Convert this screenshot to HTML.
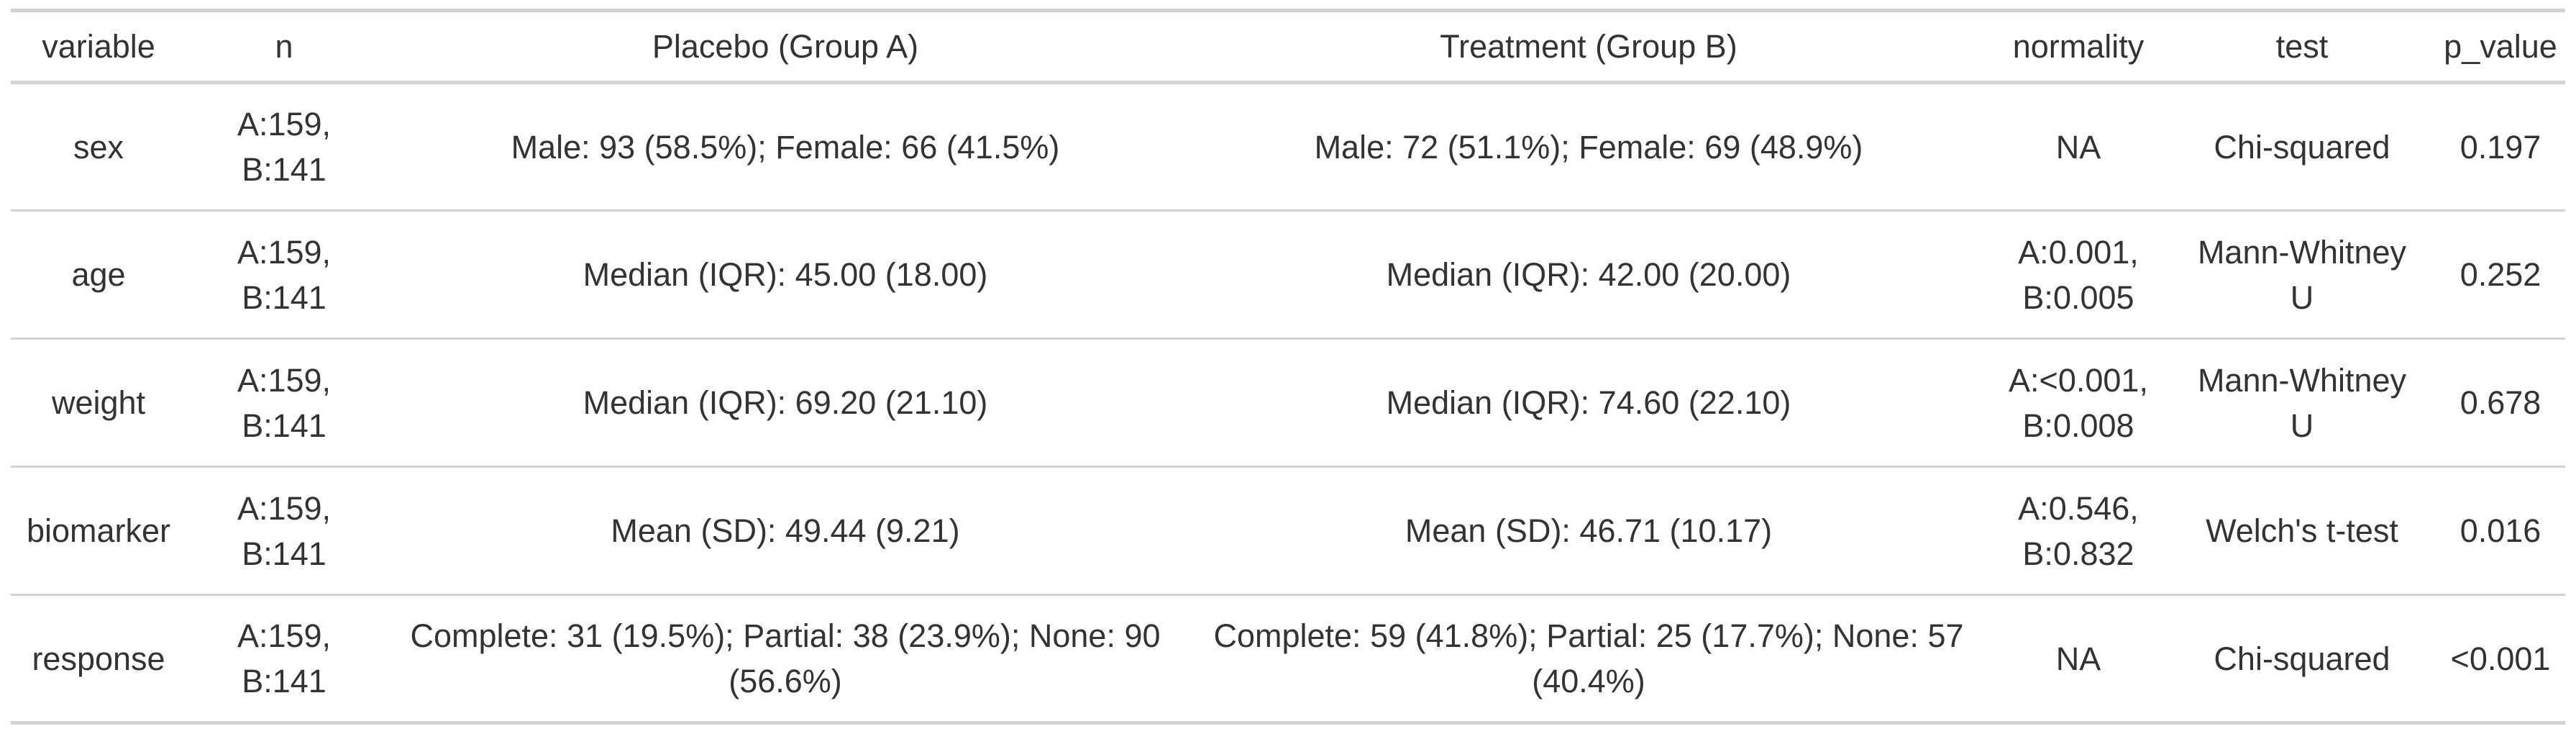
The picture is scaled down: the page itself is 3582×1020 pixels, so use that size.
<!DOCTYPE html>
<html><head><meta charset="utf-8"><style>
html,body{margin:0;padding:0;background:#fff;width:3582px;height:1020px;overflow:hidden}
table{position:absolute;left:15px;top:12px;width:3552px;border-collapse:collapse;table-layout:fixed;font-family:"Liberation Sans",sans-serif;font-size:45px;color:#333;line-height:63px}
td,th{text-align:center;vertical-align:middle;padding:0 4px;font-weight:normal;white-space:nowrap}
thead tr{border-top:5px solid #d3d3d3;border-bottom:5px solid #d3d3d3;height:100px}
tbody tr{border-bottom:3px solid #d3d3d3;height:178px}
tbody tr:last-child{border-bottom:5px solid #d3d3d3}
</style></head><body>
<table>
<colgroup><col style="width:244px"><col style="width:272px"><col style="width:1122px"><col style="width:1112px"><col style="width:250px"><col style="width:372px"><col style="width:180px"></colgroup>
<thead><tr><th>variable</th><th>n</th><th>Placebo (Group A)</th><th>Treatment (Group B)</th><th>normality</th><th>test</th><th>p_value</th></tr></thead>
<tbody>
<tr><td>sex</td><td>A:159,<br>B:141</td><td>Male: 93 (58.5%); Female: 66 (41.5%)</td><td>Male: 72 (51.1%); Female: 69 (48.9%)</td><td>NA</td><td>Chi-squared</td><td>0.197</td></tr>
<tr><td>age</td><td>A:159,<br>B:141</td><td>Median (IQR): 45.00 (18.00)</td><td>Median (IQR): 42.00 (20.00)</td><td>A:0.001,<br>B:0.005</td><td>Mann-Whitney<br>U</td><td>0.252</td></tr>
<tr><td>weight</td><td>A:159,<br>B:141</td><td>Median (IQR): 69.20 (21.10)</td><td>Median (IQR): 74.60 (22.10)</td><td>A:&lt;0.001,<br>B:0.008</td><td>Mann-Whitney<br>U</td><td>0.678</td></tr>
<tr><td>biomarker</td><td>A:159,<br>B:141</td><td>Mean (SD): 49.44 (9.21)</td><td>Mean (SD): 46.71 (10.17)</td><td>A:0.546,<br>B:0.832</td><td>Welch's t-test</td><td>0.016</td></tr>
<tr><td>response</td><td>A:159,<br>B:141</td><td>Complete: 31 (19.5%); Partial: 38 (23.9%); None: 90<br>(56.6%)</td><td>Complete: 59 (41.8%); Partial: 25 (17.7%); None: 57<br>(40.4%)</td><td>NA</td><td>Chi-squared</td><td>&lt;0.001</td></tr>
</tbody></table>
</body></html>
